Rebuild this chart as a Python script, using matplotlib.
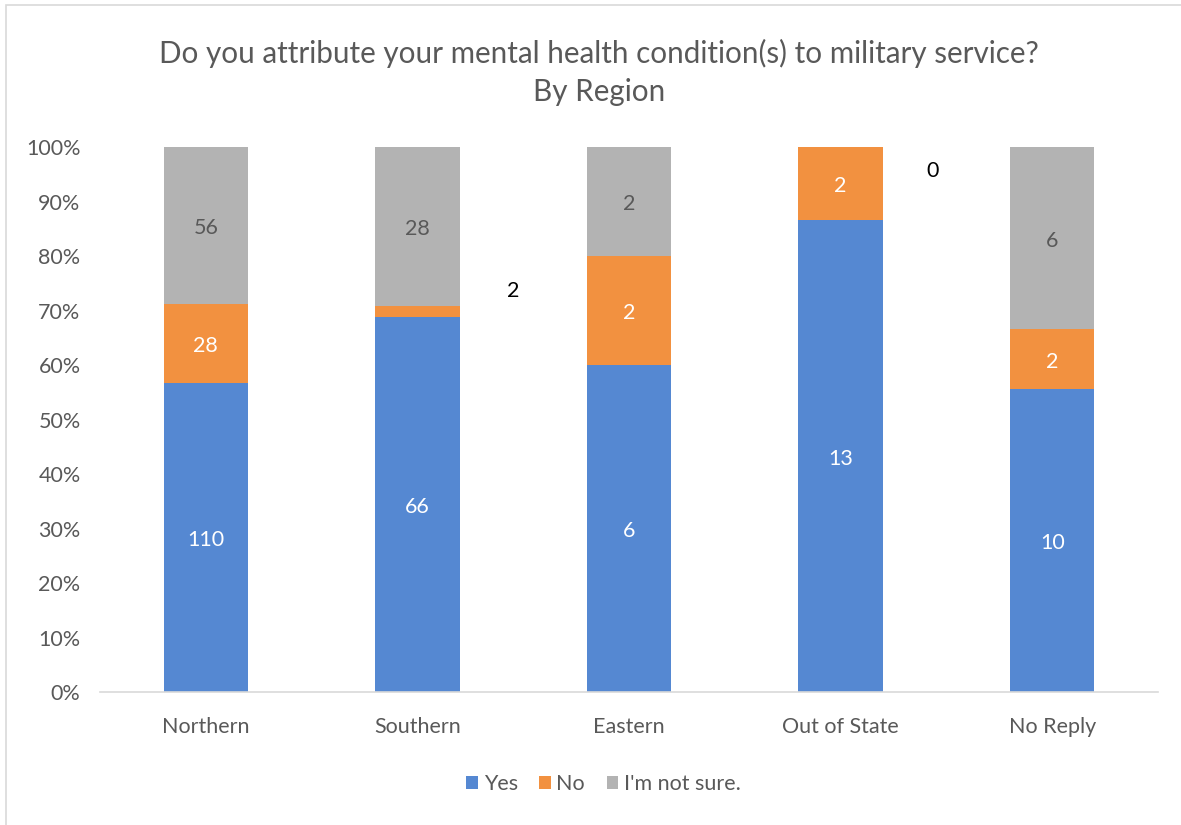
import numpy as np
from matplotlib import pyplot as plt
from matplotlib.patches import Rectangle

plt.rcParams['font.family'] = ['Lato', 'DejaVu Sans']

regions = ['Northern', 'Southern', 'Eastern', 'Out of State', 'No Reply']
yes = np.array([110, 66, 6, 13, 10])
no = np.array([28, 2, 2, 2, 2])
unsure = np.array([56, 28, 2, 0, 6])
series_names = ['Yes', 'No', "I'm not sure."]
colors = ['#5588d2', '#f29140', '#b3b3b3']
text_col = '#595959'

total = yes + no + unsure
pct = [yes / total * 100, no / total * 100, unsure / total * 100]
counts = [yes, no, unsure]

fig = plt.figure(figsize=(11.81, 8.25), dpi=100)
ax = fig.add_axes([0.0847, 0.1612, 0.8958, 0.6606])

x = np.arange(len(regions))
bottom = np.zeros(len(regions))
for k in range(3):
    ax.bar(x, pct[k], 0.4, bottom=bottom, color=colors[k], label=series_names[k], zorder=2)
    for i in range(len(regions)):
        # small segments had their labels moved outside in the original
        if (k == 1 and i == 1) or (k == 2 and i == 3):
            continue
        lab_col = 'white' if k < 2 else text_col
        ax.text(x[i], bottom[i] + pct[k][i] / 2 - 0.5, str(counts[k][i]), ha='center', va='center',
                fontsize=15.5, color=lab_col)
    bottom += pct[k]

# moved labels
ax.text(1.452, 73.6, str(no[1]), ha='center', va='center', fontsize=15.5, color='black')
ax.text(3.437, 95.6, str(unsure[3]), ha='center', va='center', fontsize=15.5, color='black')

ax.set_xlim(-0.5, 4.5)
ax.set_ylim(0, 100)
ax.set_xticks(x)
ax.set_xticklabels(regions)
ax.set_yticks(np.arange(0, 101, 10))
ax.set_yticklabels([f'{v}%' for v in range(0, 101, 10)])
ax.tick_params(axis='both', length=0, labelsize=15.5, colors=text_col)
ax.tick_params(axis='x', pad=18)
ax.tick_params(axis='y', pad=14)
for s in ['top', 'right', 'left']:
    ax.spines[s].set_visible(False)
ax.spines['bottom'].set_color('#d9d9d9')
ax.spines['bottom'].set_linewidth(1.2)

fig.text(0.507, 0.912, 'Do you attribute your mental health condition(s) to military service?\nBy Region',
         ha='center', va='center', fontsize=21.3, color=text_col, linespacing=1.45)

leg = fig.legend(loc='center', bbox_to_anchor=(0.511, 0.05), ncol=3, frameon=False, fontsize=15.5,
                 handlelength=0.55, handleheight=0.55, handletextpad=0.25, columnspacing=1.0)
for t in leg.get_texts():
    t.set_color(text_col)

# chart area border
fig.patches.append(Rectangle((0.005, -0.01), 1.0, 1.004, transform=fig.transFigure,
                             fill=False, edgecolor='#d9d9d9', linewidth=1.2))

fig.savefig('out.png', dpi=100)
